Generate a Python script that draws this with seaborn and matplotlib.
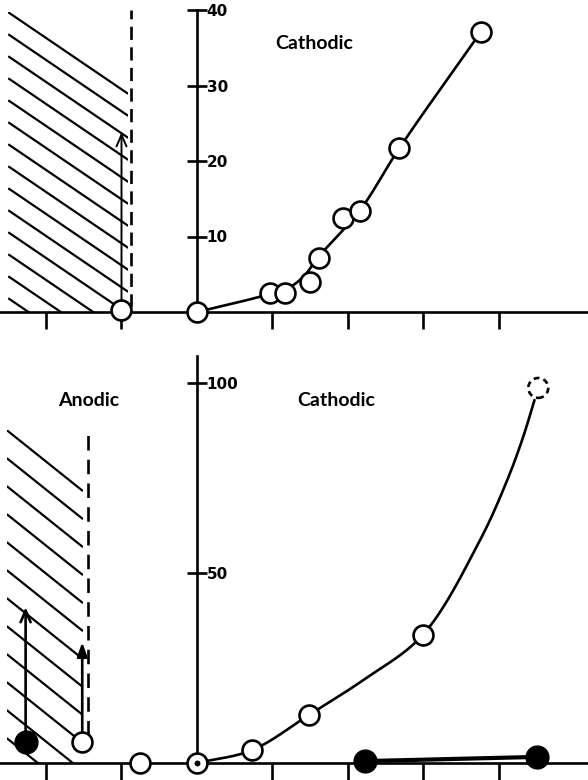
import numpy as np
import pandas as pd
import matplotlib
matplotlib.use("Agg")
import matplotlib.pyplot as plt
import seaborn as sns
from matplotlib.patches import Rectangle

# ---------------- data ----------------
# upper panel (cathodic)
top_x = [-1.0, 0.0, 0.97, 1.17, 1.50, 1.62, 1.93, 2.16, 2.68, 3.76]
top_y = [0.2, 0.0, 2.5, 2.5, 4.0, 7.2, 12.4, 13.4, 21.7, 37.1]
top_curve_x = [0.0, 0.86, 1.23, 1.43, 1.60, 2.16, 2.68, 3.76]
top_curve_y = [0.0, 2.1, 3.3, 4.9, 7.2, 13.5, 21.7, 37.1]
top_arrow = (-1.0, 0.9, 23.8)          # x, from, to
top_yticks = [10, 20, 30, 40]

# lower panel
bot_open_x = [-1.52, -0.75, 0.0, 0.73, 1.48, 2.99]
bot_open_y = [5.5, 0.0, 0.0, 3.4, 12.6, 33.7]
bot_dash_x = [4.52]
bot_dash_y = [98.7]
bot_filled_x = [-2.27, 2.23, 4.50]
bot_filled_y = [5.5, 0.5, 1.6]
bot_curve_x = [0.0, 0.73, 1.48, 2.2, 2.99, 3.75, 4.11, 4.32, 4.47]
bot_curve_y = [0.0, 3.4, 12.6, 21.8, 33.7, 58.7, 74.5, 85.8, 95.5]
bot_arrows = [(-2.27, 5.5, 41.0), (-1.52, 5.5, 31.8)]
bot_yticks = [50, 100]
xticks = [-2, -1, 1, 2, 3, 4]

# ---------------- style ----------------
sns.set_theme(style="white")
plt.rcParams["font.family"] = ["Lato", "DejaVu Sans"]

W, H = 588, 780
PXX = 75.5          # px per x unit
X0 = 197            # px of x = 0
fig = plt.figure(figsize=(W / 100, H / 100), dpi=100)


def make_axes(top_px, bot_px, zero_px, pxy):
    ax = fig.add_axes([0, 1 - bot_px / H, 1, (bot_px - top_px) / H])
    ax.set_xlim(-X0 / PXX, (W - X0) / PXX)
    ax.set_ylim(-(bot_px - zero_px) / pxy, (zero_px - top_px) / pxy)
    ax.patch.set_alpha(0)
    return ax


def style_axes(ax, ytop, yticks):
    for s in ["top", "left"]:
        ax.spines[s].set_visible(False)
    for s in ["bottom", "right"]:
        ax.spines[s].set_color("black")
        ax.spines[s].set_linewidth(1.9)
    ax.spines["bottom"].set_position(("data", 0))
    ax.spines["right"].set_position(("data", 0))
    ax.spines["right"].set_bounds(0, ytop)
    ax.set_xticks(xticks)
    ax.set_xticklabels([])
    ax.set_yticks(yticks)
    ax.tick_params(axis="x", bottom=True, top=False, direction="out",
                   length=12, width=1.9, color="black")
    ax.tick_params(axis="y", left=False, right=True, labelleft=False,
                   labelright=True, direction="inout", length=14, width=1.9,
                   color="black", pad=0, labelsize=11, labelcolor="black")
    for t in ax.get_yticklabels():
        t.set_fontweight("bold")
        t.set_family(["DejaVu Sans"])
    ax.set_xlabel("")
    ax.set_ylabel("")


def hatch(ax, x0, x1, y0, y1, slope_px, spacing_px, pxy, lw):
    m = slope_px * PXX / pxy
    rect = Rectangle((x0, y0), x1 - x0, y1 - y0, fill=False, lw=0,
                     transform=ax.transData)
    ax.add_patch(rect)
    step = spacing_px / pxy
    c = y1
    while c > y0 - m * (x1 - x0):
        ln, = ax.plot([x0, x1], [c, c - m * (x1 - x0)],
                      color="black", lw=lw, solid_capstyle="butt")
        ln.set_clip_path(rect)
        c -= step


def spline(xs, ys, sx, sy, n=40, alpha=0.5):
    """centripetal Catmull-Rom through the knots (computed in pixel space)"""
    P = np.column_stack([np.asarray(xs) * sx, np.asarray(ys) * sy])
    P = np.vstack([2 * P[0] - P[1], P, 2 * P[-1] - P[-2]])
    out = []
    for i in range(1, len(P) - 2):
        p0, p1, p2, p3 = P[i - 1], P[i], P[i + 1], P[i + 2]
        t0 = 0.0
        t1 = t0 + np.linalg.norm(p1 - p0) ** alpha
        t2 = t1 + np.linalg.norm(p2 - p1) ** alpha
        t3 = t2 + np.linalg.norm(p3 - p2) ** alpha
        t = np.linspace(t1, t2, n, endpoint=False)[:, None]
        a1 = (t1 - t) / (t1 - t0) * p0 + (t - t0) / (t1 - t0) * p1
        a2 = (t2 - t) / (t2 - t1) * p1 + (t - t1) / (t2 - t1) * p2
        a3 = (t3 - t) / (t3 - t2) * p2 + (t - t2) / (t3 - t2) * p3
        b1 = (t2 - t) / (t2 - t0) * a1 + (t - t0) / (t2 - t0) * a2
        b2 = (t3 - t) / (t3 - t1) * a2 + (t - t1) / (t3 - t1) * a3
        c = (t2 - t) / (t2 - t1) * b1 + (t - t1) / (t2 - t1) * b2
        out.append(c)
    out.append(P[-2][None, :])
    out = np.vstack(out)
    return out[:, 0] / sx, out[:, 1] / sy


# ---------------- upper panel ----------------
PY1 = 7.55
ax1 = make_axes(0, 330, 312, PY1)
style_axes(ax1, 40, top_yticks)
hatch(ax1, -2.5, -0.91, 0, 39.7, 0.68, 22, PY1, 1.6)
ax1.plot([-0.87, -0.87], [0.6, 40], color="black", lw=1.9,
         linestyle=(0, (5, 2.8)))
cx, cy = spline(top_curve_x, top_curve_y, PXX, PY1)
sns.lineplot(x=cx, y=cy, sort=False, estimator=None, color="black", lw=1.9,
             ax=ax1, zorder=3)
ax1.annotate("", xy=(top_arrow[0], top_arrow[2]), xytext=(top_arrow[0], top_arrow[1]),
             arrowprops=dict(arrowstyle="->,head_length=0.7,head_width=0.3",
                             lw=1.4, color="black", shrinkA=0, shrinkB=0))
sns.scatterplot(x=top_x, y=top_y, s=205, color="white", edgecolor="black",
                linewidth=1.9, ax=ax1, zorder=5)
ax1.text((275 - X0) / PXX, 35.5, "Cathodic", fontsize=14, fontweight="bold",
         ha="left", va="center", color="black")

# ---------------- lower panel ----------------
PY2 = 3.8
ax2 = make_axes(340, 780, 763, PY2)
style_axes(ax2, 107, bot_yticks)
hatch(ax2, -2.52, -1.51, 0, 87.6, 0.8, 28, PY2, 1.6)
ax2.plot([-1.44, -1.44], [7.4, 87.6], color="black", lw=1.9,
         linestyle=(0, (5.5, 3.5)))
cx, cy = spline(bot_curve_x, bot_curve_y, PXX, PY2)
sns.lineplot(x=cx, y=cy, sort=False, estimator=None, color="black", lw=1.9,
             ax=ax2, zorder=3)
sns.lineplot(x=bot_filled_x[1:], y=bot_filled_y[1:], sort=False, estimator=None,
             color="black", lw=3.0, ax=ax2, zorder=3)
for (x, ya, yb), st in zip(bot_arrows, ["->,head_length=0.7,head_width=0.3",
                                       "-|>,head_length=0.7,head_width=0.25"]):
    ax2.annotate("", xy=(x, yb), xytext=(x, ya),
                 arrowprops=dict(arrowstyle=st, lw=1.9, color="black",
                                 shrinkA=0, shrinkB=0))
sns.scatterplot(x=bot_open_x, y=bot_open_y, s=205, color="white", edgecolor="black",
                linewidth=1.9, ax=ax2, zorder=5)
sns.scatterplot(x=bot_dash_x, y=bot_dash_y, s=205, color="white", edgecolor="black",
                linewidth=1.9, linestyle=(0, (2.2, 1.6)), ax=ax2, zorder=5)
sns.scatterplot(x=[bot_open_x[2]], y=[bot_open_y[2]], s=18, color="black",
                linewidth=0, ax=ax2, zorder=6)
sns.scatterplot(x=bot_filled_x, y=bot_filled_y, s=270, color="black",
                edgecolor="black", linewidth=1, ax=ax2, zorder=5)
ax2.text((58 - X0) / PXX, 95.3, "Anodic", fontsize=14, fontweight="bold",
         ha="left", va="center", color="black")
ax2.text((297 - X0) / PXX, 95.3, "Cathodic", fontsize=14, fontweight="bold",
         ha="left", va="center", color="black")

fig.savefig("out.png", dpi=100, facecolor="white")
